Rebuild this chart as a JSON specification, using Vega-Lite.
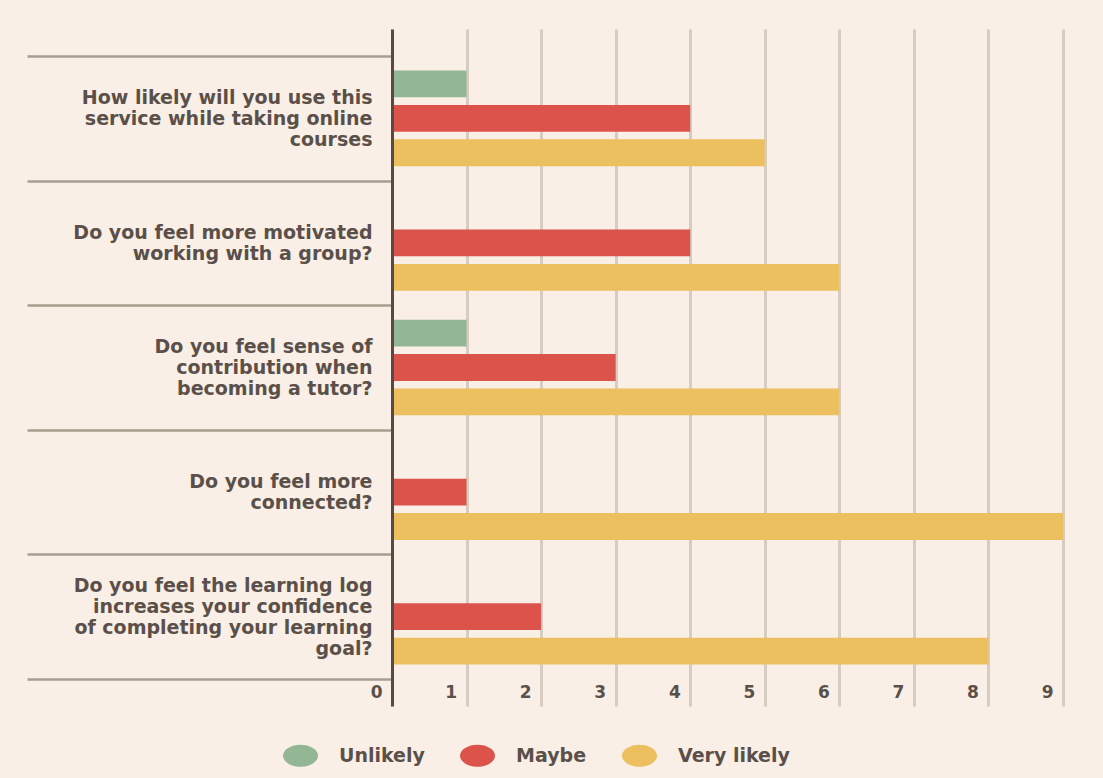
{
  "$schema": "https://vega.github.io/schema/vega-lite/v6.json",
  "width": 671,
  "height": 677,
  "autosize": {"type": "none"},
  "padding": {"left": 392, "top": 29, "right": 40, "bottom": 72},
  "background": "#f9efe6",
  "config": {"view": {"stroke": null}, "font": "DejaVu Sans"},
  "data": {
    "values": [
      {"question": "How likely will you use this\nservice while taking online\ncourses", "response": "Unlikely", "count": 1},
      {"question": "How likely will you use this\nservice while taking online\ncourses", "response": "Maybe", "count": 4},
      {"question": "How likely will you use this\nservice while taking online\ncourses", "response": "Very likely", "count": 5},
      {"question": "Do you feel more motivated\nworking with a group?", "response": "Unlikely", "count": 0},
      {"question": "Do you feel more motivated\nworking with a group?", "response": "Maybe", "count": 4},
      {"question": "Do you feel more motivated\nworking with a group?", "response": "Very likely", "count": 6},
      {"question": "Do you feel sense of\ncontribution when\nbecoming a tutor?", "response": "Unlikely", "count": 1},
      {"question": "Do you feel sense of\ncontribution when\nbecoming a tutor?", "response": "Maybe", "count": 3},
      {"question": "Do you feel sense of\ncontribution when\nbecoming a tutor?", "response": "Very likely", "count": 6},
      {"question": "Do you feel more\nconnected?", "response": "Unlikely", "count": 0},
      {"question": "Do you feel more\nconnected?", "response": "Maybe", "count": 1},
      {"question": "Do you feel more\nconnected?", "response": "Very likely", "count": 9},
      {"question": "Do you feel the learning log\nincreases your confidence\nof completing your learning\ngoal?", "response": "Unlikely", "count": 0},
      {"question": "Do you feel the learning log\nincreases your confidence\nof completing your learning\ngoal?", "response": "Maybe", "count": 2},
      {"question": "Do you feel the learning log\nincreases your confidence\nof completing your learning\ngoal?", "response": "Very likely", "count": 8}
    ]
  },
  "mark": {"type": "bar"},
  "encoding": {
    "y": {
      "field": "question",
      "type": "nominal",
      "sort": null,
      "title": null,
      "scale": {"paddingInner": 0, "paddingOuter": 0.217},
      "axis": {
        "domainColor": "#5a4a40",
        "domainWidth": 3,
        "ticks": true,
        "tickBand": "extent",
        "tickSize": 365,
        "tickColor": "#a99c91",
        "tickWidth": 2.5,
        "labelPadding": -345,
        "labelExpr": "isValid(datum.value) ? split(datum.value, '\\n') : ''",
        "labelFont": "DejaVu Sans",
        "labelFontSize": 19,
        "labelFontWeight": "bold",
        "labelColor": "#5b5049",
        "labelLineHeight": 21,
        "labelLimit": 0,
        "grid": false,
        "zindex": 1,
        "encoding": {"labels": {"dy": {"value": {"expr": "isValid(datum.value) ? -(length(split(datum.value, '\\n')) - 1) * 10.5 : 0"}}}}
      }
    },
    "x": {
      "field": "count",
      "type": "quantitative",
      "title": null,
      "scale": {"domain": [0, 9], "nice": false},
      "axis": {
        "values": [0, 1, 2, 3, 4, 5, 6, 7, 8, 9],
        "grid": true,
        "gridColor": "#d6ccc1",
        "gridWidth": 3,
        "domain": false,
        "ticks": false,
        "labelFlush": false,
        "labelAlign": "right",
        "labelBaseline": "middle",
        "labelOffset": -10,
        "labelPadding": -14,
        "labelFont": "DejaVu Sans",
        "labelFontSize": 17,
        "labelFontWeight": "bold",
        "labelColor": "#5b5049",
        "zindex": 0
      }
    },
    "yOffset": {
      "field": "response",
      "type": "nominal",
      "sort": ["Unlikely", "Maybe", "Very likely"],
      "scale": {"paddingInner": 0.22, "paddingOuter": 0.42}
    },
    "color": {
      "field": "response",
      "type": "nominal",
      "sort": ["Unlikely", "Maybe", "Very likely"],
      "scale": {"domain": ["Unlikely", "Maybe", "Very likely"], "range": ["#93b794", "#dc534c", "#ecc05e"]},
      "legend": {
        "title": null,
        "orient": "none",
        "direction": "horizontal",
        "legendX": -109,
        "legendY": 709,
        "symbolType": "M-1,0A1,0.63,0,1,1,1,0A1,0.63,0,1,1,-1,0Z",
        "symbolSize": 1225,
        "symbolStrokeWidth": 0,
        "symbolOpacity": 1,
        "labelFont": "DejaVu Sans",
        "labelFontSize": 19,
        "labelFontWeight": "bold",
        "labelColor": "#5b5049",
        "labelOffset": 21,
        "columnPadding": 35,
        "labelLimit": 0
      }
    }
  }
}
